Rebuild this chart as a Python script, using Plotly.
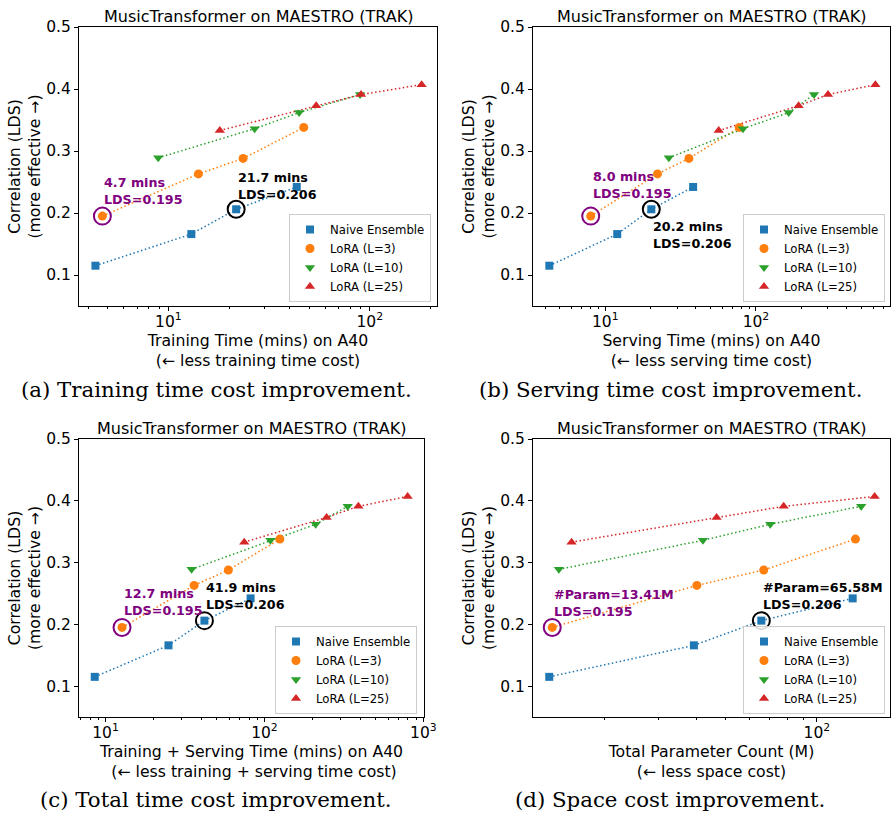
import math
import plotly.graph_objects as go

# ---------------- data ----------------
series_names = ["Naive Ensemble", "LoRA (L=3)", "LoRA (L=10)", "LoRA (L=25)"]

lds_naive = [0.115, 0.166, 0.206, 0.242]
lds_l3 = [0.195, 0.263, 0.288, 0.338]
lds_l10 = [0.289, 0.336, 0.362, 0.391]
lds_l25 = [0.333, 0.373, 0.391, 0.407]

train_naive = [4.34, 13.0, 21.7, 43.4]
train_l3 = [4.7, 14.1, 23.5, 47.0]
train_l10 = [8.9, 26.8, 44.6, 89.5]
train_l25 = [18.0, 54.2, 90.5, 181.0]

serve_naive = [4.25, 12.0, 20.2, 38.3]
serve_l3 = [8.0, 22.2, 35.9, 77.6]
serve_l10 = [26.4, 82.0, 165.0, 243.0]
serve_l25 = [56.6, 192.0, 301.0, 621.0]

total_naive = [8.55, 24.9, 41.9, 81.8]
total_l3 = [12.7, 36.1, 59.3, 125.0]
total_l10 = [34.8, 109.0, 210.0, 334.0]
total_l25 = [74.6, 246.0, 390.0, 796.0]

param_naive = [13.11, 39.3, 65.58, 131.2]
param_l3 = [13.41, 40.2, 66.8, 134.0]
param_l10 = [14.1, 42.1, 70.2, 140.0]
param_l25 = [15.53, 46.7, 77.7, 155.0]

lds_all = [lds_naive, lds_l3, lds_l10, lds_l25]
x_all = [
    [train_naive, train_l3, train_l10, train_l25],
    [serve_naive, serve_l3, serve_l10, serve_l25],
    [total_naive, total_l3, total_l10, total_l25],
    [param_naive, param_l3, param_l10, param_l25],
]

panel_title = "MusicTransformer on MAESTRO (TRAK)"
x_titles = [
    "Training Time (mins) on A40<br>(← less training time cost)",
    "Serving Time (mins) on A40<br>(← less serving time cost)",
    "Training + Serving Time (mins) on A40<br> (← less training + serving time cost)",
    "Total Parameter Count (M)<br>(← less space cost)",
]
y_title = "Correlation (LDS)<br>(more effective →)"
captions = [
    "(a) Training time cost improvement.",
    "(b) Serving time cost improvement.",
    "(c) Total time cost improvement.",
    "(d) Space cost improvement.",
]
purple_labels = ["4.7 mins<br>LDS=0.195", "8.0 mins<br>LDS=0.195",
                 "12.7 mins<br>LDS=0.195", "#Param=13.41M<br>LDS=0.195"]
black_labels = ["21.7 mins<br>LDS=0.206", "20.2 mins<br>LDS=0.206",
                "41.9 mins<br>LDS=0.206", "#Param=65.58M<br>LDS=0.206"]
y_ticks = [0.1, 0.2, 0.3, 0.4, 0.5]
y_tick_labels = ["0.1", "0.2", "0.3", "0.4", "0.5"]
x_major = [10, 100, 1000]
x_major_labels = ["10<sup>1</sup>", "10<sup>2</sup>", "10<sup>3</sup>"]

# ---------------- style / layout ----------------
colors = ["#1f77b4", "#ff7f0e", "#2ca02c", "#d62728"]
symbols = ["square", "circle", "triangle-down", "triangle-up"]
msizes = [8, 9, 9, 9]
W, H = 891, 814

x_ranges = [[0.556, 2.334], [0.52, 2.89], [0.833, 3.004], [1.064, 2.241]]
x_domains = [[79 / W, 437 / W], [533 / W, 890 / W], [79 / W, 424 / W], [533 / W, 890 / W]]
y_domains = [[1 - 306 / H, 1 - 27 / H], [1 - 306 / H, 1 - 27 / H],
             [1 - 717 / H, 1 - 439 / H], [1 - 717 / H, 1 - 439 / H]]
legend_pos = [(431 / W, 1 - 302 / H), (885 / W, 1 - 302 / H),
              (417 / W, 1 - 714 / H), (885 / W, 1 - 714 / H)]
# label placement: (dy, yanchor)
purple_dy = [(0.0115, "bottom"), (0.021, "bottom"), (0.0115, "bottom"), (0.010, "bottom")]
black_dy = [(0.009, "bottom"), (-0.012, "top"), (0.010, "bottom"), (0.010, "bottom")]
caption_pos = [(216 / W, 1 - 389 / H), (670 / W, 1 - 389 / H),
               (216 / W, 1 - 799 / H), (670 / W, 1 - 799 / H)]

minor_vals = [m * 10 ** e for e in range(0, 4) for m in range(2, 10)]

FONT = "DejaVu Sans"
fig = go.Figure()
annotations = []
layout = {}

for p in range(4):
    sfx = "" if p == 0 else str(p + 1)
    xa, ya = "x" + sfx, "y" + sfx
    leg = "legend" + sfx
    xs_panel = x_all[p]
    for s in range(4):
        fig.add_trace(go.Scatter(
            x=xs_panel[s], y=lds_all[s], mode="lines", xaxis=xa, yaxis=ya,
            line=dict(color=colors[s], width=1.5, dash="1.5px,2.5px"),
            showlegend=False, hoverinfo="skip"))
    for s in range(4):
        fig.add_trace(go.Scatter(
            x=xs_panel[s], y=lds_all[s], mode="markers", xaxis=xa, yaxis=ya,
            name=series_names[s], legend=leg,
            marker=dict(color=colors[s], symbol=symbols[s], size=msizes[s],
                        line=dict(width=0))))
    # highlight circles
    px_, py_ = xs_panel[1][0], lds_all[1][0]
    bx_, by_ = xs_panel[0][2], lds_all[0][2]
    fig.add_trace(go.Scatter(
        x=[px_], y=[py_], mode="markers", xaxis=xa, yaxis=ya, showlegend=False,
        marker=dict(symbol="circle-open", size=17, color="purple",
                    line=dict(width=2, color="purple"))))
    fig.add_trace(go.Scatter(
        x=[bx_], y=[by_], mode="markers", xaxis=xa, yaxis=ya, showlegend=False,
        marker=dict(symbol="circle-open", size=17, color="black",
                    line=dict(width=2, color="black"))))
    annotations.append(dict(
        x=math.log10(px_), y=py_ + purple_dy[p][0], xref=xa, yref=ya,
        text="<b>" + purple_labels[p] + "</b>", showarrow=False,
        xanchor="left", yanchor=purple_dy[p][1], align="left",
        font=dict(family=FONT, size=12.7, color="purple")))
    annotations.append(dict(
        x=math.log10(bx_), y=by_ + black_dy[p][0], xref=xa, yref=ya,
        text="<b>" + black_labels[p] + "</b>", showarrow=False,
        xanchor="left", yanchor=black_dy[p][1], align="left",
        font=dict(family=FONT, size=12.7, color="black")))
    # subplot title
    xc = (x_domains[p][0] + x_domains[p][1]) / 2
    annotations.append(dict(
        x=xc, y=y_domains[p][1] + 11 / H, xref="paper", yref="paper",
        text=panel_title, showarrow=False, xanchor="center", yanchor="middle",
        font=dict(family=FONT, size=16, color="black")))
    # caption
    annotations.append(dict(
        x=caption_pos[p][0], y=caption_pos[p][1], xref="paper", yref="paper",
        text=captions[p], showarrow=False, xanchor="center", yanchor="middle",
        font=dict(family="DejaVu Serif", size=21.3, color="black")))

    layout["xaxis" + sfx] = dict(
        type="log", range=x_ranges[p], domain=x_domains[p], anchor=ya,
        automargin=False,
        showline=True, linecolor="black", linewidth=1, mirror=True,
        ticks="outside", ticklen=4, tickwidth=1, tickcolor="black",
        tickvals=x_major, ticktext=x_major_labels, ticklabelstandoff=-3,
        tickfont=dict(family=FONT, size=15.5, color="black"),
        showgrid=False, zeroline=False,
        minor=dict(ticks="outside", ticklen=2, tickwidth=1, tickcolor="black",
                   tickvals=minor_vals, showgrid=False),
        title=dict(text=x_titles[p], font=dict(family=FONT, size=15.7, color="black"),
                   standoff=2))
    layout["yaxis" + sfx] = dict(
        range=[0.05, 0.5], domain=y_domains[p], anchor=xa,
        automargin=False,
        showline=True, linecolor="black", linewidth=1, mirror=True,
        ticks="outside", ticklen=4, tickwidth=1, tickcolor="black",
        tickvals=y_ticks, ticktext=y_tick_labels,
        tickfont=dict(family=FONT, size=15.5, color="black"),
        showgrid=False, zeroline=False,
        title=dict(text=y_title, font=dict(family=FONT, size=15.7, color="black"),
                   standoff=1))
    layout[leg] = dict(
        x=legend_pos[p][0], y=legend_pos[p][1], xanchor="right", yanchor="bottom",
        bgcolor="rgba(255,255,255,0.85)", bordercolor="#cccccc", borderwidth=1,
        font=dict(family=FONT, size=11.7, color="black"), tracegroupgap=0)

fig.update_layout(
    width=W, height=H, margin=dict(l=0, r=0, t=0, b=0, autoexpand=False),
    paper_bgcolor="white", plot_bgcolor="white",
    font=dict(family=FONT, color="black"),
    annotations=annotations, **layout)

fig.write_html("out.html",
               config={"displayModeBar": False},
               post_script="document.body.style.margin='0px';"
                           "document.body.style.overflow='hidden';")
